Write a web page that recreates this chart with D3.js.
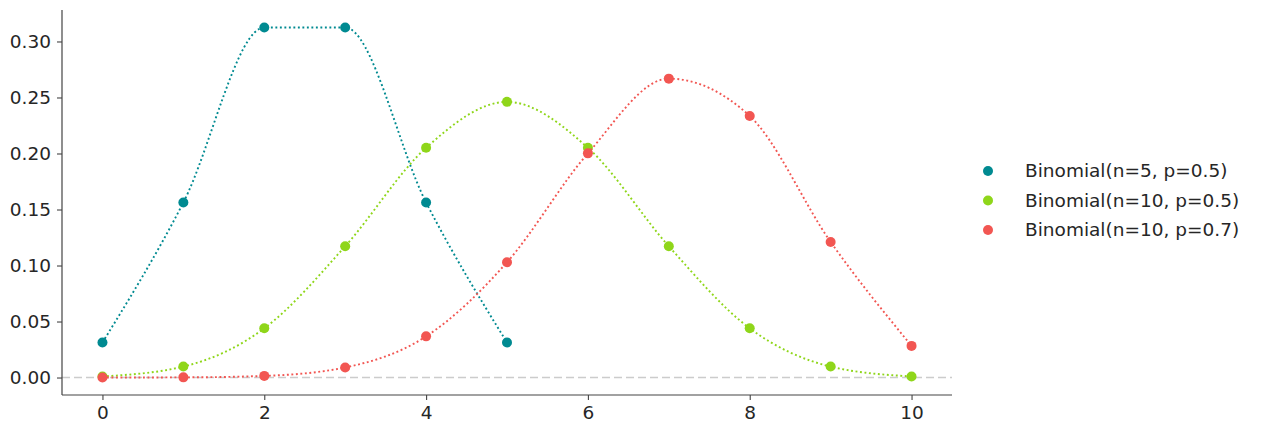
<!DOCTYPE html>
<html>
<head>
<meta charset="utf-8">
<script src="https://cdn.jsdelivr.net/npm/d3@7"></script>
<style>
  body { margin: 0; background: #fff; }
  text { font-family: "DejaVu Sans", sans-serif; }
</style>
</head>
<body>
<div id="chart"></div>
<script>
(function(){

    var width = 1261;
    var height = 434;

    var margin = { top: 10, bottom: 39, left: 62, right: 309 };

    // data
    var seriesNames = ['Binomial(n=5, p=0.5)', 'Binomial(n=10, p=0.5)', 'Binomial(n=10, p=0.7)'];
    var seriesColors = ['#008a91', '#8fd61a', '#f25652'];
    var kN5 = [0, 1, 2, 3, 4, 5];
    var kN10 = [0, 1, 2, 3, 4, 5, 6, 7, 8, 9, 10];
    var pmfN5P05 = [0.03125, 0.15625, 0.3125, 0.3125, 0.15625, 0.03125];
    var pmfN10P05 = [0.00098, 0.00977, 0.04395, 0.11719, 0.20508, 0.24609, 0.20508, 0.11719, 0.04395, 0.00977, 0.00098];
    var pmfN10P07 = [0.00001, 0.00014, 0.00145, 0.00900, 0.03676, 0.10292, 0.20012, 0.26683, 0.23347, 0.12106, 0.02825];
    var xTicks = [0, 2, 4, 6, 8, 10];
    var yTicks = [0, 0.05, 0.10, 0.15, 0.20, 0.25, 0.30];

    var series = [
        { name: seriesNames[0], color: seriesColors[0], k: kN5, p: pmfN5P05 },
        { name: seriesNames[1], color: seriesColors[1], k: kN10, p: pmfN10P05 },
        { name: seriesNames[2], color: seriesColors[2], k: kN10, p: pmfN10P07 }
    ];

    var svg = d3.select("#chart")
        .append("svg")
            .attr("width", width)
            .attr("height", height);

    var w = width - margin.left - margin.right;
    var h = height - margin.top - margin.bottom;

    var g = svg.append("g")
        .attr("transform", "translate(" + margin.left + "," + margin.top + ")");

    var x = d3.scaleLinear().domain([-0.5, 10.5]).range([0, w]);
    var y = d3.scaleLinear().domain([-0.0156, 0.3281]).range([h, 0]);

    // dashed zero line
    g.append("line")
        .attr("x1", 0).attr("x2", w)
        .attr("y1", y(0)).attr("y2", y(0))
        .style("stroke", "#cccccc")
        .style("stroke-width", 1.6)
        .style("stroke-dasharray", "8,4");

    var line = d3.line()
        .x(function(d) { return x(d[0]); })
        .y(function(d) { return y(d[1]); })
        .curve(d3.curveMonotoneX);

    series.forEach(function(s){
        var pts = s.k.map(function(k, i){ return [k, s.p[i]]; });
        g.append("path")
            .datum(pts)
            .attr("d", line)
            .style("fill", "none")
            .style("stroke", s.color)
            .style("stroke-width", 1.9)
            .style("stroke-dasharray", "1.9,2.6");
        g.selectAll(null)
            .data(pts)
            .enter()
            .append("circle")
            .attr("cx", function(d) { return x(d[0]); })
            .attr("cy", function(d) { return y(d[1]); })
            .attr("r", 5)
            .style("fill", s.color);
    });

    // axes
    var xAxis = g.append("g")
        .attr("transform", "translate(0," + h + ")")
        .call(d3.axisBottom(x).tickValues(xTicks).tickSize(5).tickPadding(6).tickFormat(d3.format("d")));
    var yAxis = g.append("g")
        .call(d3.axisLeft(y).tickValues(yTicks).tickSize(5).tickPadding(6).tickFormat(d3.format(".2f")));

    [xAxis, yAxis].forEach(function(a){
        a.select(".domain").style("stroke", "#444").style("stroke-width", 1.2)
            .attr("d", a === xAxis ? "M0,0H" + w : "M0,0V" + h);
        a.selectAll(".tick line").style("stroke", "#444").style("stroke-width", 1.1);
        a.selectAll("text")
            .style("font-size", "18.5px")
            .style("fill", "#262626")
            .style("font-family", "DejaVu Sans, sans-serif");
    });

    // legend
    var legend = svg.append("g")
        .attr("transform", "translate(988,171)");

    var item = legend.selectAll("g")
        .data(series)
        .enter()
        .append("g")
            .attr("transform", function(d, i) { return "translate(0," + (i * 29.5) + ")"; });

    item.append("circle")
        .attr("r", 5)
        .style("fill", function(d) { return d.color; });

    item.append("text")
        .attr("x", 37)
        .attr("dy", "0.35em")
        .style("font-size", "18.5px")
        .style("fill", "#262626")
        .text(function(d) { return d.name; });
})();
</script>
</body>
</html>
